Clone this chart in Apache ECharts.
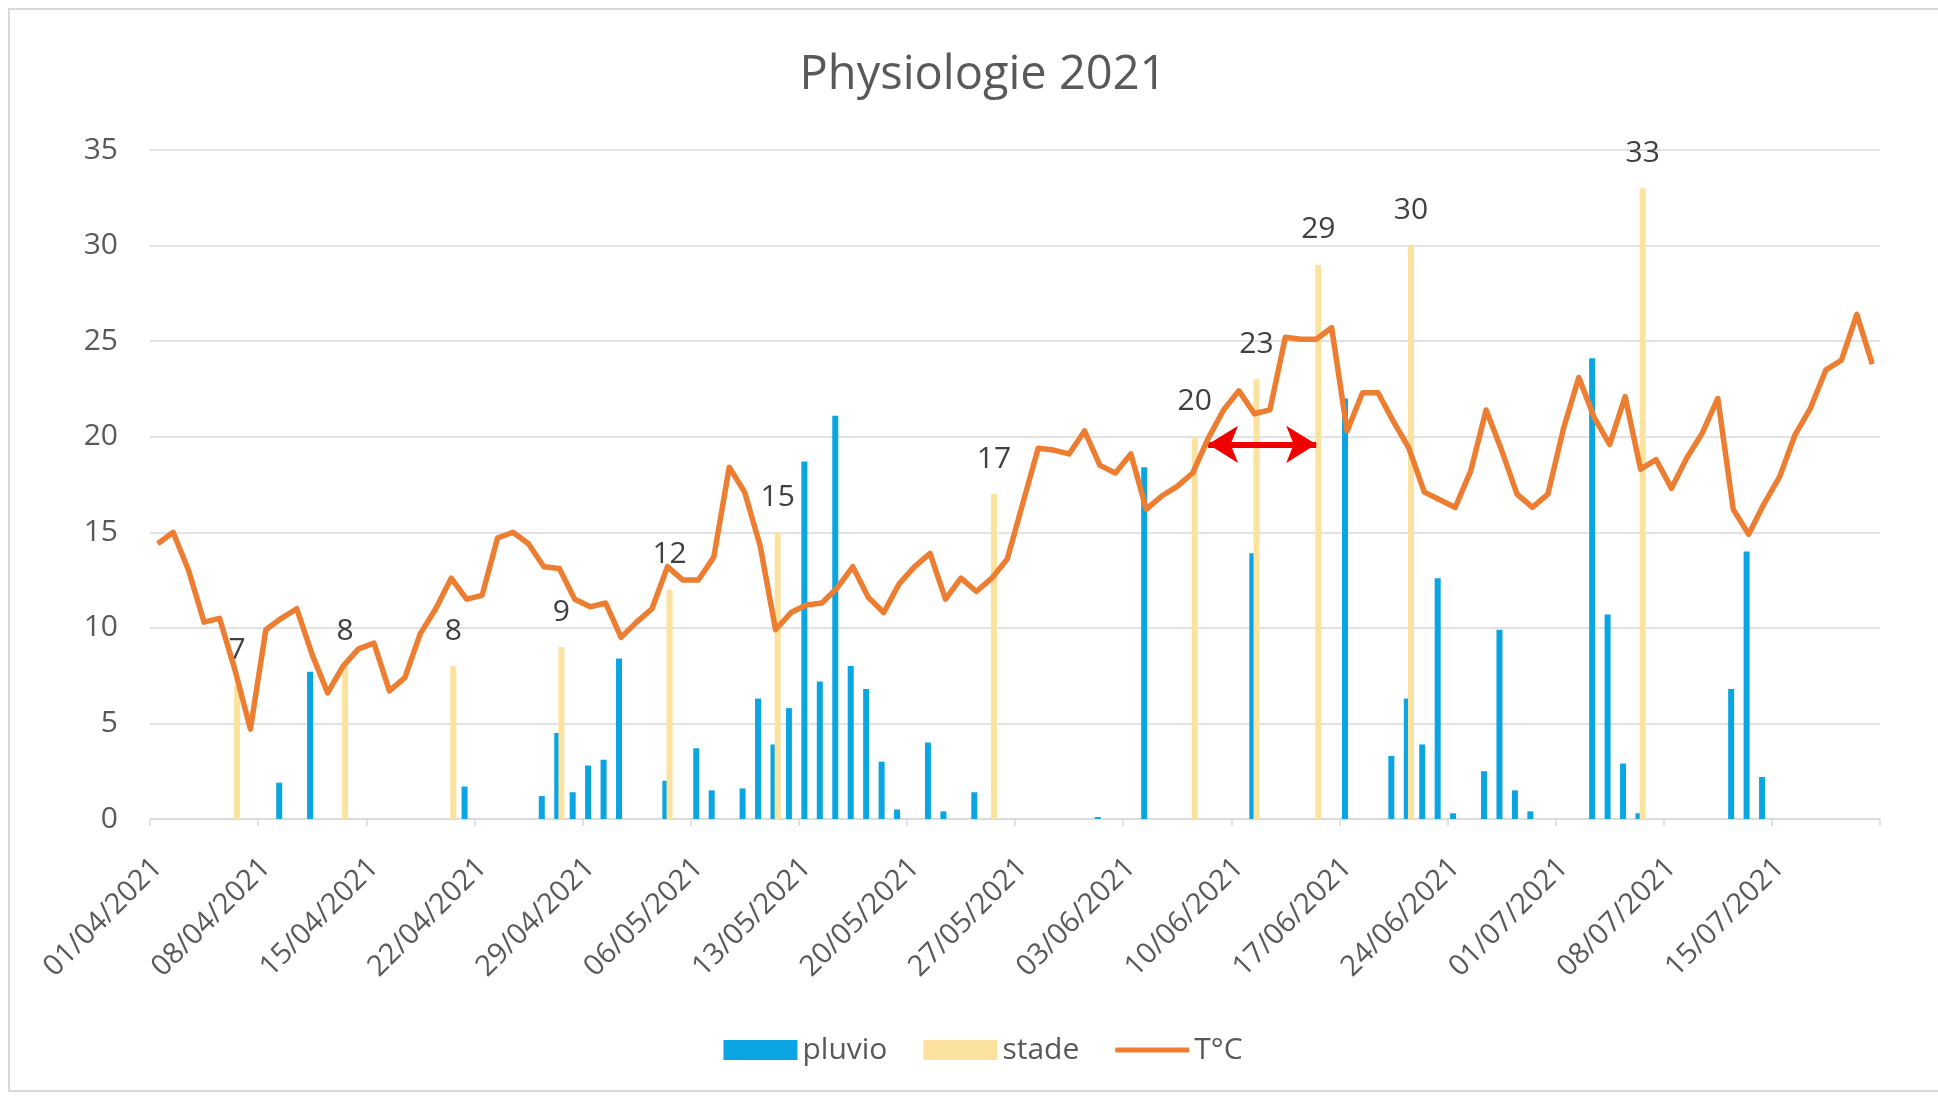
<!DOCTYPE html>
<html>
<head>
<meta charset="utf-8">
<title>Physiologie 2021</title>
<script src="https://cdn.jsdelivr.net/npm/echarts@6/dist/echarts.min.js"></script>
<style>
  html, body { margin: 0; padding: 0; width: 1938px; height: 1099px; overflow: hidden; background: #fff; }
  #frame { position: absolute; left: 8px; top: 8px; width: 1960px; height: 1080px; border: 2px solid #d9d9d9; pointer-events: none; }
  #main { position: absolute; left: 0; top: 0; width: 1966px; height: 1099px; }
</style>
</head>
<body>
<div id="main"></div>
<div id="frame"></div>
<script>
// daily categories 01/04/2021 -> 21/07/2021
var dates = [];
var monthLen = [[4, 30], [5, 31], [6, 30], [7, 21]];
monthLen.forEach(function (m) {
  for (var d = 1; d <= m[1]; d++) {
    dates.push((d < 10 ? '0' : '') + d + '/0' + m[0] + '/2021');
  }
});

// T°C, one value per day
var temp = [
  14.4, 15.0, 13.0, 10.3, 10.5, 7.8, 4.7, 9.9, 10.5, 11.0,
  8.6, 6.6, 8.0, 8.9, 9.2, 6.7, 7.4, 9.7, 11.0, 12.6,
  11.5, 11.7, 14.7, 15.0, 14.4, 13.2, 13.1, 11.5, 11.1, 11.3,
  9.5, 10.3, 11.0, 13.2, 12.5, 12.5, 13.7, 18.4, 17.1, 14.3,
  9.9, 10.8, 11.2, 11.3, 12.1, 13.2, 11.6, 10.8, 12.3, 13.2,
  13.9, 11.5, 12.6, 11.9, 12.6, 13.6, 16.5, 19.4, 19.3, 19.1,
  20.3, 18.5, 18.1, 19.1, 16.2, 16.9, 17.4, 18.1, 19.9, 21.4,
  22.4, 21.2, 21.4, 25.2, 25.1, 25.1, 25.7, 20.3, 22.3, 22.3,
  20.8, 19.4, 17.1, 16.7, 16.3, 18.2, 21.4, 19.3, 17.0, 16.3,
  17.0, 20.4, 23.1, 21.0, 19.6, 22.1, 18.3, 18.8, 17.3, 18.9,
  20.2, 22.0, 16.2, 14.9, 16.5, 17.9, 20.1, 21.5, 23.5, 24.0,
  26.4, 23.8
];

// pluvio (rain) days and amounts
var pluvioDates = [
  '09/04/2021', '11/04/2021', '21/04/2021', '26/04/2021', '27/04/2021', '28/04/2021',
  '29/04/2021', '30/04/2021', '01/05/2021', '04/05/2021', '06/05/2021', '07/05/2021',
  '09/05/2021', '10/05/2021', '11/05/2021', '12/05/2021', '13/05/2021', '14/05/2021',
  '15/05/2021', '16/05/2021', '17/05/2021', '18/05/2021', '19/05/2021', '21/05/2021',
  '22/05/2021', '24/05/2021', '01/06/2021', '04/06/2021', '11/06/2021', '17/06/2021',
  '20/06/2021', '21/06/2021', '22/06/2021', '23/06/2021', '24/06/2021', '26/06/2021',
  '27/06/2021', '28/06/2021', '29/06/2021', '03/07/2021', '04/07/2021', '05/07/2021',
  '06/07/2021', '12/07/2021', '13/07/2021', '14/07/2021'
];
var pluvioValues = [
  1.9, 7.7, 1.7, 1.2, 4.5, 1.4,
  2.8, 3.1, 8.4, 2.0, 3.7, 1.5,
  1.6, 6.3, 3.9, 5.8, 18.7, 7.2,
  21.1, 8.0, 6.8, 3.0, 0.5, 4.0,
  0.4, 1.4, 0.1, 18.4, 13.9, 22.0,
  3.3, 6.3, 3.9, 12.6, 0.3, 2.5,
  9.9, 1.5, 0.4, 24.1, 10.7, 2.9,
  0.3, 6.8, 14.0, 2.2
];

// stade (phenological stage) observations
var stadeDates = [
  '06/04/2021', '13/04/2021', '20/04/2021', '27/04/2021', '04/05/2021', '11/05/2021',
  '25/05/2021', '07/06/2021', '11/06/2021', '15/06/2021', '21/06/2021', '06/07/2021'
];
var stadeValues = [7, 8, 8, 9, 12, 15, 17, 20, 23, 29, 30, 33];

// arrow annotation
var arrowFrom = '08/06/2021';
var arrowTo = '15/06/2021';
var arrowLevel = 19.6;

function spread(ds, vs) {
  var out = dates.map(function () { return null; });
  ds.forEach(function (d, i) { out[dates.indexOf(d)] = vs[i]; });
  return out;
}

var font = "'Open Sans', sans-serif";
var myChart = echarts.init(document.getElementById('main'));
var option = {
  animation: false,
  title: {
    text: 'Physiologie 2021',
    left: 'center',
    top: 47,
    textStyle: { fontFamily: font, fontSize: 47, fontWeight: 'normal', color: '#595959' }
  },
  legend: {
    top: 1030,
    left: 'center',
    itemWidth: 74,
    itemHeight: 20,
    itemGap: 36,
    textStyle: { fontFamily: font, fontSize: 30, color: '#595959' },
    data: [
      { name: 'pluvio', icon: 'rect' },
      { name: 'stade', icon: 'rect' },
      { name: 'T°C', icon: 'path://M0,0L0,0M0,7.5L74,7.5L74,12.5L0,12.5ZM74,20L74,20' }
    ]
  },
  grid: { left: 150, right: 86, top: 150, bottom: 280 },
  xAxis: {
    type: 'category',
    data: dates,
    boundaryGap: true,
    axisLine: { lineStyle: { color: '#d9d9d9', width: 1.5 } },
    axisTick: { show: true, interval: 6, length: 7, lineStyle: { color: '#d9d9d9', width: 1.5 } },
    axisLabel: {
      interval: 6,
      rotate: 45,
      margin: 44,
      fontFamily: font,
      fontSize: 29,
      color: '#595959'
    }
  },
  yAxis: {
    type: 'value',
    min: 0,
    max: 35,
    interval: 5,
    axisLine: { show: false },
    axisTick: { show: false },
    axisLabel: { margin: 32, fontFamily: font, fontSize: 30, color: '#595959' },
    splitLine: { lineStyle: { color: '#d9d9d9', width: 1.5 } }
  },
  series: [
    {
      name: 'pluvio',
      type: 'bar',
      barWidth: 6,
      barGap: '-30%',
      itemStyle: { color: '#0aa5e2' },
      data: spread(pluvioDates, pluvioValues)
    },
    {
      name: 'stade',
      type: 'bar',
      barWidth: 6,
      itemStyle: { color: '#fbe29e' },
      label: {
        show: true,
        position: 'top',
        distance: 20,
        fontFamily: font,
        fontSize: 30,
        color: '#404040'
      },
      data: spread(stadeDates, stadeValues)
    },
    {
      name: 'T°C',
      type: 'line',
      symbol: 'none',
      lineStyle: { color: '#ed7d31', width: 5.5, join: 'round' },
      itemStyle: { color: '#ed7d31' },
      data: temp,
      z: 5,
      markLine: {
        silent: true,
        symbol: ['arrow', 'arrow'],
        symbolSize: [28, 30],
        label: { show: false },
        lineStyle: { color: '#f00000', width: 6, type: 'solid' },
        itemStyle: { color: '#f00000' },
        data: [[{ coord: [arrowFrom, arrowLevel] }, { coord: [arrowTo, arrowLevel] }]]
      }
    }
  ]
};
myChart.setOption(option);
</script>
</body>
</html>
